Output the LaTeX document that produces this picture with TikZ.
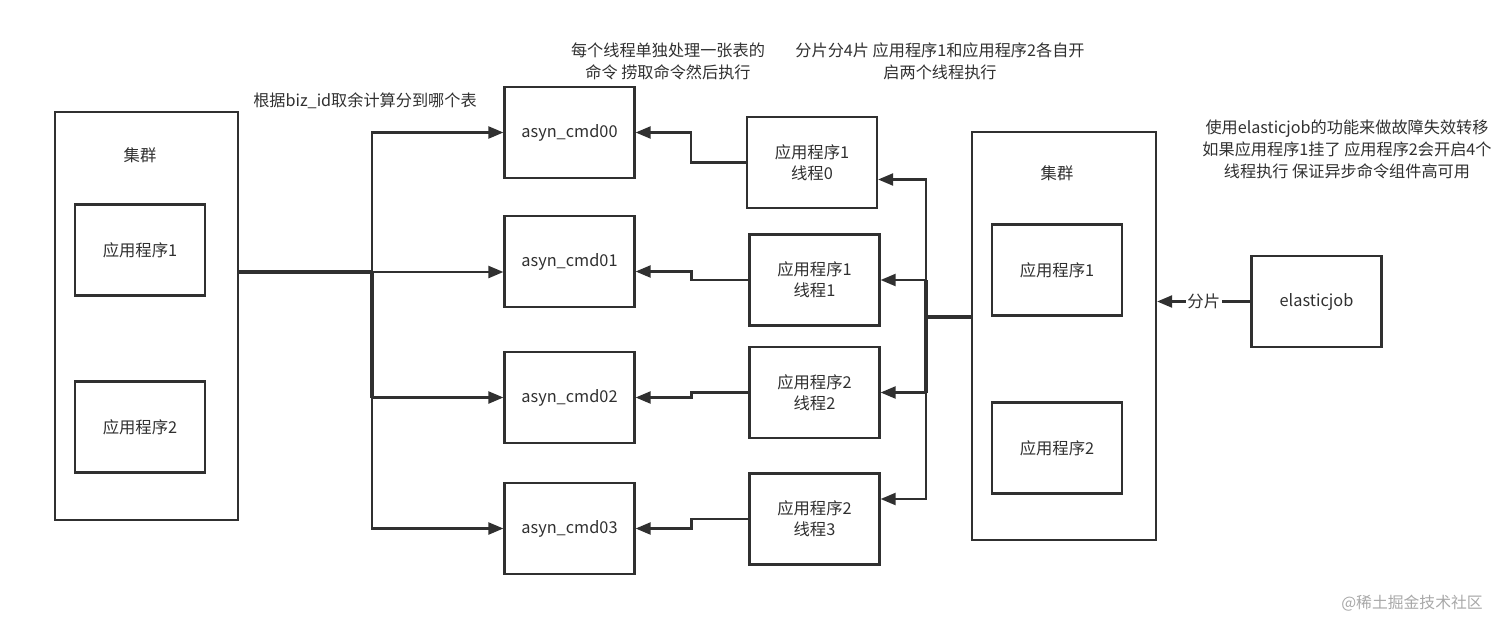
\documentclass[tikz,border=0pt]{standalone}
\usepackage{fontspec}
\setmainfont{Noto Sans CJK SC}
\usetikzlibrary{arrows.meta,calc}
\definecolor{ink}{HTML}{303030}
\definecolor{mark}{HTML}{A8A8A8}
\tikzset{
  box/.style={draw=ink, line width=1.3pt, text=ink, align=center, inner sep=0pt,
    font=\fontsize{9.3}{11.8}\selectfont},
  appbox/.style={box, minimum width=2.6cm, minimum height=1.82cm},
  note/.style={text=ink, align=center, font=\fontsize{9.2}{12.6}\selectfont},
  wire/.style={draw=ink, line width=1.3pt},
  fat/.style={draw=ink, line width=2.5pt},
  arr/.style={wire, -{Triangle[length=0.3cm,width=0.24cm]}},
}
\begin{document}
\begin{tikzpicture}[x=0.02cm, y=-0.02cm]
\useasboundingbox (0,0) rectangle (1512,636);

% left cluster
\node[box, minimum width=3.66cm, minimum height=8.16cm] (lcl) at (146.5,316) {};
\node[note, font=\fontsize{9.3}{11.8}\selectfont] (lname) at (140,155) {集群};
\node[appbox] (la1) at (140,250) {应用程序1};
\node[appbox] (la2) at (140,427) {应用程序2};

% tables
\node[appbox] (c00) at (569.5,132.5) {asyn\_cmd00};
\node[appbox] (c01) at (569.5,261.5) {asyn\_cmd01};
\node[appbox] (c02) at (569.5,397.5) {asyn\_cmd02};
\node[appbox] (c03) at (569.5,528.5) {asyn\_cmd03};

% threads
\node[appbox] (t0) at (812,162.5) {应用程序1\\线程0};
\node[appbox] (t1) at (814.5,280) {应用程序1\\线程1};
\node[appbox] (t2) at (814.5,392.5) {应用程序2\\线程2};
\node[appbox] (t3) at (814.5,519) {应用程序2\\线程3};

% right cluster
\node[box, minimum width=3.68cm, minimum height=8.16cm] (rcl) at (1064,336) {};
\node[note, font=\fontsize{9.3}{11.8}\selectfont] (rname) at (1057,173) {集群};
\node[appbox] (ra1) at (1057,270) {应用程序1};
\node[appbox] (ra2) at (1057,448) {应用程序2};

\node[appbox] (ej) at (1316.5,301.5) {elasticjob};

% notes
\node[note] (nmod) at (365,101) {根据biz\_id取余计算分到哪个表};
\node[note] (nthr) at (668,61) {每个线程单独处理一张表的\\命令 捞取命令然后执行};
\node[note] (nsh) at (940,61) {分片分4片 应用程序1和应用程序2各自开\\启两个线程执行};
\node[note] (nfail) at (1347,149) {使用elasticjob的功能来做故障失效转移\\如果应用程序1挂了 应用程序2会开启4个\\线程执行 保证异步命令组件高可用};
\node[text=mark, font=\fontsize{9}{10}\selectfont] (wm) at (1412,603) {@稀土掘金技术社区};

% cluster -> tables
\coordinate (lj) at (372,272);
\draw[fat] (lj -| lcl.east) -- (lj);
\draw[fat] (lj) -- (lj |- c02.west);
\draw[arr] (lj) |- (c00.west);
\draw[arr] (lj) -- (lj -| c01.west);
\draw[arr] (lj) |- (c02.west);
\draw[arr] (lj) |- (c03.west);

% threads -> tables
\draw[arr] (t0.west) -- ++(-55,0) |- (c00.east);
\draw[arr] (t1.west) -- ++(-57,0) |- ($(c01.east)+(0,10)$);
\draw[arr] (t2.west) -- ++(-57,0) |- (c02.east);
\draw[arr] (t3.west) -- ++(-57,0) |- (c03.east);

% right cluster -> threads
\coordinate (rj) at (926,317);
\draw[fat] (rj -| rcl.west) -- (rj);
\draw[fat] (rj |- t1.east) -- (rj |- t2.east);
\draw[arr] (rj) |- ($(t0.east)+(0,17)$);
\draw[arr] (rj) |- (t1.east);
\draw[arr] (rj) |- (t2.east);
\draw[arr] (rj) |- ($(t3.east)+(0,-20)$);

% elasticjob -> right cluster
\draw[arr] (ej.west) -- (ej.west -| rcl.east)
  node[midway, fill=white, text=ink, inner sep=1pt, font=\fontsize{9.3}{11.8}\selectfont] {分片};
\end{tikzpicture}
\end{document}
